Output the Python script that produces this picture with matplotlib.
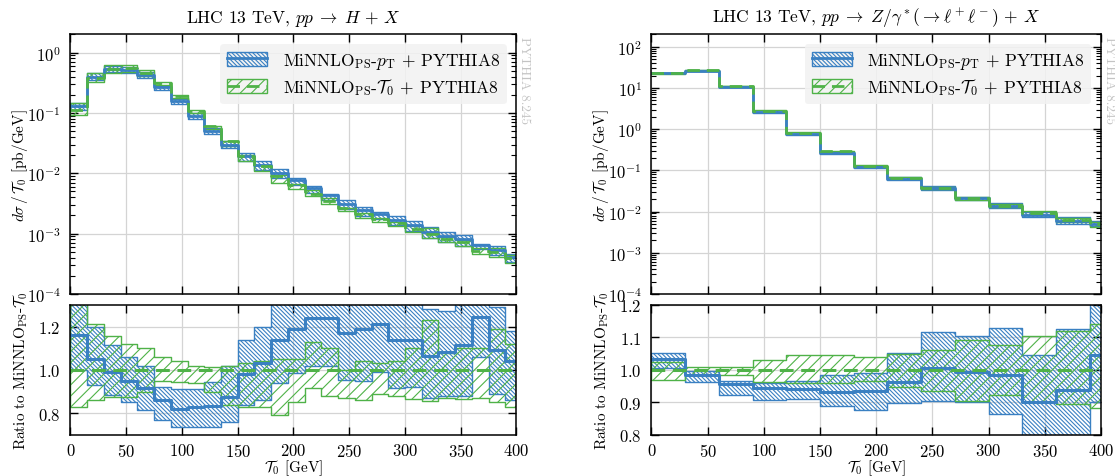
import numpy as np
import matplotlib
matplotlib.use("Agg")
import matplotlib.pyplot as plt
from matplotlib.patches import Patch
from matplotlib.lines import Line2D

plt.rcParams['font.family'] = 'serif'
plt.rcParams['font.serif'] = ['cmr10', 'DejaVu Serif']
plt.rcParams['mathtext.fontset'] = 'cm'
plt.rcParams['axes.formatter.use_mathtext'] = True
plt.rcParams['axes.unicode_minus'] = False
plt.rcParams['hatch.linewidth'] = 0.8

# --- H + X, 15 GeV bins ---
h_edges = np.arange(0, 406, 15)
h_green = [0.112, 0.38, 0.535, 0.55, 0.46, 0.31, 0.19, 0.108, 0.06, 0.034,
           0.0194, 0.0131, 0.0089, 0.0064, 0.0046, 0.0035, 0.0027, 0.0021,
           0.00174, 0.0015, 0.00121, 0.00099, 0.00083, 0.00072, 0.00052,
           0.00049, 0.00039]
h_ratio_blue = [1.16, 1.05, 0.99, 0.95, 0.915, 0.86, 0.82, 0.83, 0.835, 0.875,
                0.98, 1.03, 1.14, 1.19, 1.24, 1.24, 1.17, 1.19, 1.21, 1.14,
                1.14, 1.065, 1.085, 1.115, 1.245, 1.09, 1.04]
h_blue_lo = [1.0, 0.93, 0.885, 0.85, 0.815, 0.77, 0.735, 0.735, 0.735, 0.76,
             0.84, 0.86, 0.94, 0.985, 1.02, 1.02, 0.955, 0.95, 0.99, 0.915,
             0.92, 0.87, 0.88, 0.88, 1.06, 0.89, 0.86]
h_blue_hi = [1.32, 1.2, 1.115, 1.06, 1.02, 0.92, 0.91, 0.91, 0.945, 1.02,
             1.14, 1.2, 1.32, 1.32, 1.32, 1.32, 1.32, 1.32, 1.32, 1.32,
             1.32, 1.28, 1.27, 1.32, 1.32, 1.29, 1.18]
h_green_lo = [0.83, 0.86, 0.875, 0.875, 0.9, 0.95, 0.945, 0.94, 0.9, 0.84,
              0.83, 0.83, 0.79, 0.85, 0.915, 0.88, 0.87, 0.86, 0.89, 0.88,
              0.865, 0.855, 0.87, 0.865, 0.87, 0.85, 0.83]
h_green_hi = [1.32, 1.21, 1.155, 1.12, 1.1, 1.06, 1.04, 1.02, 1.015, 1.02,
              1.03, 1.04, 1.05, 1.05, 1.13, 1.1, 1.0, 1.04, 1.03, 1.04,
              1.1, 1.23, 1.08, 1.1, 1.1, 1.19, 1.12]

# --- Z/gamma* + X, 30 GeV bins ---
z_edges = np.arange(0, 421, 30)
z_green = [22.6, 27.0, 11.2, 2.8, 0.8, 0.29, 0.13, 0.065, 0.037, 0.021,
           0.014, 0.0093, 0.0064, 0.0049]
z_ratio_blue = [1.033, 0.985, 0.956, 0.944, 0.94, 0.932, 0.935, 0.964, 1.005,
                0.995, 0.984, 0.90, 0.938, 1.046]
z_blue_lo = [1.005, 0.962, 0.922, 0.908, 0.91, 0.888, 0.876, 0.897, 0.905,
             0.9, 0.864, 0.79, 0.79, 0.9]
z_blue_hi = [1.053, 0.998, 0.966, 0.96, 0.965, 0.985, 0.99, 1.053, 1.116,
             1.105, 1.13, 1.045, 1.125, 1.21]
z_green_lo = [0.97, 0.985, 0.985, 0.963, 0.96, 0.96, 0.965, 0.948, 0.935,
              0.905, 0.922, 0.9, 0.895, 0.882]
z_green_hi = [1.025, 1.01, 1.008, 1.03, 1.047, 1.045, 1.04, 1.048, 1.06,
              1.092, 1.078, 1.105, 1.12, 1.14]

BLUE = '#3a80c2'
GREEN = '#4fb248'
HB = '\\' * 8
HG = '///'
lab_blue = r'MiNNLO$_{\rm PS}$-$p_{\rm T}$ $+$ PYTHIA8'
lab_green = r'MiNNLO$_{\rm PS}$-$\mathcal{T}_0$ $+$ PYTHIA8'


def st(v):
    v = np.asarray(v, dtype=float)
    return np.append(v, v[-1])


def band(ax, edges, lo, hi, color, hatch):
    ax.fill_between(edges, st(lo), st(hi), step='post', facecolor='none',
                    edgecolor=color, hatch=hatch, linewidth=1.0)


def style(ax):
    ax.set_xlim(0, 400)
    ax.tick_params(which='both', direction='in', top=True, right=True, labelsize=12)
    ax.tick_params(which='major', length=6, width=1)
    ax.tick_params(which='minor', length=3.5, width=0.8)
    ax.tick_params(axis='y', pad=7)
    ax.tick_params(axis='x', pad=5)
    ax.grid(True, which='major', color='#d4d4d4', linewidth=0.9)
    ax.set_axisbelow(True)
    for s in ax.spines.values():
        s.set_linewidth(1.1)
    ax.set_xticks(np.arange(0, 401, 50))


def panel(ax, axr, edges, green, rblue, blo, bhi, glo, ghi, ylim, rlim, rticks, title):
    g = np.asarray(green)
    blue = g * np.asarray(rblue)
    band(ax, edges, g * np.asarray(blo), g * np.asarray(bhi), BLUE, HB)
    band(ax, edges, g * np.asarray(glo), g * np.asarray(ghi), GREEN, HG)
    ax.step(edges, st(blue), where='post', color=BLUE, lw=2.0)
    ax.step(edges, st(g), where='post', color=GREEN, lw=2.0, dashes=(4.5, 2.5))
    ax.set_yscale('log')
    ax.set_ylim(*ylim)
    style(ax)
    ax.tick_params(labelbottom=False)
    ax.set_title(title, fontsize=12.5, pad=9)
    ax.set_ylabel(r'$d\sigma\,/\,\mathcal{T}_0$ [pb/GeV]', fontsize=11)
    ax.yaxis.set_label_coords(-0.09, 0.5)
    ax.text(1.004, 0.993, 'PYTHIA 8.245', transform=ax.transAxes, rotation=-90,
            ha='left', va='top', color='#c4c4c4', fontsize=9.5)
    h1 = (Patch(facecolor='none', edgecolor=BLUE, hatch=HB, lw=1.0),
          Line2D([], [], color=BLUE, lw=2.0))
    h2 = (Patch(facecolor='none', edgecolor=GREEN, hatch=HG, lw=1.0),
          Line2D([], [], color=GREEN, lw=2.0, dashes=(4.5, 2.5)))
    ax.legend([h1, h2], [lab_blue, lab_green], loc='upper right', fontsize=12.5,
              frameon=True, facecolor='#f2f2f2', edgecolor='none', framealpha=0.85,
              handlelength=2.3, handleheight=0.9, borderaxespad=0.55,
              labelspacing=0.3, handletextpad=0.9)

    band(axr, edges, blo, bhi, BLUE, HB)
    band(axr, edges, glo, ghi, GREEN, HG)
    axr.step(edges, st(rblue), where='post', color=BLUE, lw=2.2)
    axr.step(edges, st(g / g), where='post', color=GREEN, lw=2.2, dashes=(4.5, 2.5))
    axr.set_ylim(*rlim)
    axr.set_yticks(rticks)
    style(axr)
    axr.set_xlabel(r'$\mathcal{T}_0$ [GeV]', fontsize=11, labelpad=-1)
    axr.set_ylabel(r'Ratio to MiNNLO$_{\rm PS}$-$\mathcal{T}_0$', fontsize=11)
    axr.yaxis.set_label_coords(-0.09, 0.5)


fig = plt.figure(figsize=(11.15, 4.77), dpi=100)
ax1 = fig.add_axes([0.0632, 0.3816, 0.4, 0.544])
ax1r = fig.add_axes([0.0632, 0.086, 0.4, 0.2725])
ax2 = fig.add_axes([0.5843, 0.3816, 0.4031, 0.544])
ax2r = fig.add_axes([0.5843, 0.086, 0.4031, 0.2725])

panel(ax1, ax1r, h_edges, h_green, h_ratio_blue, h_blue_lo, h_blue_hi,
      h_green_lo, h_green_hi, (1e-4, 2.0), (0.7, 1.3), [0.8, 1.0, 1.2],
      r'LHC 13 TeV, $pp \;\to\; H \,+\, X$')
panel(ax2, ax2r, z_edges, z_green, z_ratio_blue, z_blue_lo, z_blue_hi,
      z_green_lo, z_green_hi, (1e-4, 200), (0.8, 1.2), [0.8, 0.9, 1.0, 1.1, 1.2],
      r'LHC 13 TeV, $pp \;\to\; Z/\gamma^*(\to \ell^+\ell^-) \,+\, X$')

fig.savefig('out.png', dpi=100)
